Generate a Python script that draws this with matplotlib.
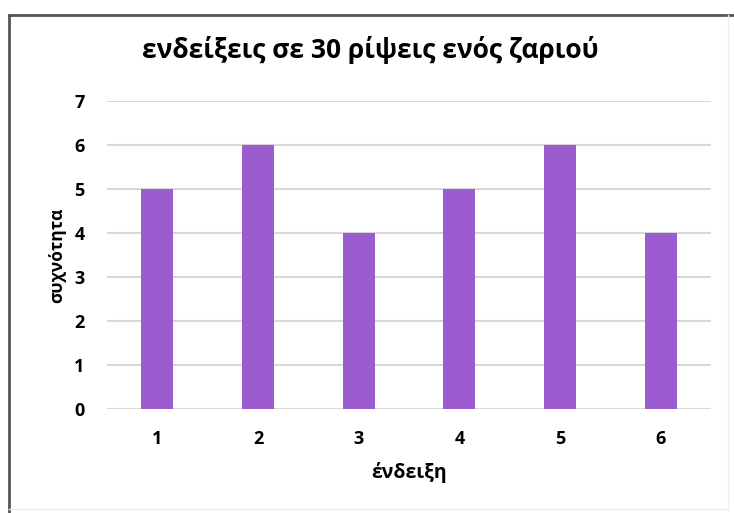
import matplotlib.pyplot as plt
from matplotlib.lines import Line2D

plt.rcParams['font.family'] = ['Open Sans', 'DejaVu Sans']

# die faces and how many times each came up in 30 throws
faces = ['1', '2', '3', '4', '5', '6']
counts = [5, 6, 4, 5, 6, 4]

fig = plt.figure(figsize=(7.34, 5.13), dpi=100)
ax = fig.add_axes([0.1458, 0.2027, 0.8229, 0.6004])

ax.bar(faces, counts, width=0.32, color='#9b5ccf', zorder=3)

ax.set_ylim(0, 7)
ax.set_xlim(-0.5, 5.5)
ax.set_yticks(range(0, 8))
ax.grid(axis='y', color='#d9d9d9', linewidth=1.5, zorder=0)
ax.set_axisbelow(True)
for s in ax.spines.values():
    s.set_visible(False)
ax.tick_params(length=0, labelsize=13)
for lbl in ax.get_xticklabels() + ax.get_yticklabels():
    lbl.set_fontweight('bold')
ax.tick_params(axis='x', pad=15)
ax.tick_params(axis='y', pad=16)

ax.set_xlabel('ένδειξη', fontsize=14, fontweight='bold', labelpad=10)
ax.set_ylabel('συχνότητα', fontsize=12.5, fontweight='bold', labelpad=6)

fig.text(0.504, 0.902, 'ενδείξεις σε 30 ρίψεις ενός ζαριού',
         ha='center', va='center', fontsize=19, fontweight='bold')

# outer frame: dark top and left edges, faint right and bottom
fig.add_artist(Line2D([0.012, 1.0], [0.971, 0.971], color='#555555', lw=2))
fig.add_artist(Line2D([0.012, 0.012], [0.0, 0.971], color='#555555', lw=2))
fig.add_artist(Line2D([0.992, 0.992], [0.008, 0.971], color='#eeeeee', lw=1))
fig.add_artist(Line2D([0.012, 0.992], [0.008, 0.008], color='#eeeeee', lw=1))

fig.savefig('out.png', dpi=100)
